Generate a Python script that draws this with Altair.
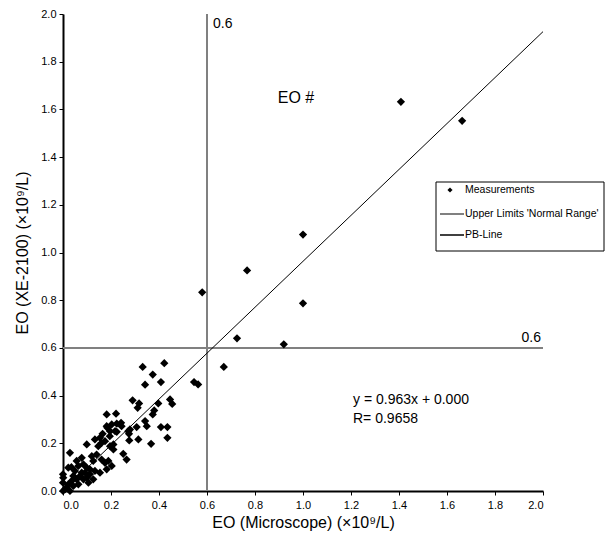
import altair as alt
import pandas as pd

# ---- data ----
x_vals = [1.408, 1.663, 1.0, 0.767, 0.58, 1.0, 0.725, 0.92, 0.67, 0.546, 0.563,
          0.332, 0.422, 0.374, 0.342, 0.408, 0.29, 0.317, 0.311, 0.397, 0.38, 0.374,
          0.446, 0.455, 0.221, 0.224, 0.242, 0.244, 0.224, 0.272, 0.279, 0.275, 0.307,
          0.342, 0.349, 0.408, 0.435, 0.435, 0.367, 0.314, 0.276, 0.251, 0.265,
          0.182, 0.182, 0.203, 0.196, 0.217, 0.099, 0.133, 0.154, 0.161, 0.147, 0.175,
          0.196, 0.21, 0.21, 0.029, 0.078, 0.12, 0.14, 0.126, 0.161, 0.175, 0.189,
          0.203, 0.182, 0.022, 0.064, 0.085, 0.099, 0.112, 0.133, 0.154, 0.126,
          0.0, 0.001, 0.0, 0.043, 0.057, 0.071, 0.085, 0.099, 0.106, 0.064, 0.043,
          0.022, 0.008, 0.029, 0.0, 0.015, 0.036, 0.078, 0.092, 0.05, 0.185, 0.165,
          0.195, 0.057, 0.112, 0.035]
y_vals = [1.632, 1.552, 1.075, 0.925, 0.833, 0.787, 0.64, 0.615, 0.52, 0.457, 0.447,
          0.52, 0.536, 0.488, 0.446, 0.457, 0.38, 0.367, 0.349, 0.367, 0.338, 0.321,
          0.384, 0.365, 0.324, 0.282, 0.286, 0.272, 0.248, 0.251, 0.258, 0.24, 0.268,
          0.293, 0.272, 0.268, 0.268, 0.223, 0.198, 0.216, 0.212, 0.156, 0.132,
          0.321, 0.272, 0.279, 0.251, 0.251, 0.195, 0.216, 0.223, 0.202, 0.188, 0.209,
          0.188, 0.195, 0.174, 0.16, 0.139, 0.146, 0.153, 0.126, 0.132, 0.118, 0.126,
          0.105, 0.091, 0.098, 0.105, 0.112, 0.098, 0.091, 0.084, 0.077, 0.049,
          0.07, 0.056, 0.035, 0.063, 0.049, 0.063, 0.049, 0.056, 0.035, 0.028, 0.021,
          0.028, 0.007, 0.0, 0.0, 0.014, 0.042, 0.077, 0.077, 0.084, 0.265, 0.24,
          0.23, 0.126, 0.07, 0.1]
fit_x = [0.0, 2.0]
fit_y = [0.0, 1.926]
limit = 0.6
axis_ticks = [0.0, 0.2, 0.4, 0.6, 0.8, 1.0, 1.2, 1.4, 1.6, 1.8, 2.0]
legend_labels = ["Measurements", "Upper Limits 'Normal Range'", "PB-Line"]

FONT = "Liberation Sans"
GRAY = "#808080"

pts = pd.DataFrame({"x": x_vals, "y": y_vals})
fit = pd.DataFrame({"x": fit_x, "y": fit_y})
vline = pd.DataFrame({"x": [limit], "y0": [0.0], "y1": [2.0]})
hline = pd.DataFrame({"y": [limit], "x0": [0.0], "x1": [2.0]})
one = pd.DataFrame({"d": [0]})

xs = alt.Scale(domain=[0, 2], nice=False, zero=False)
ys = alt.Scale(domain=[0, 2], nice=False, zero=False)
common = dict(values=axis_ticks, format=".1f", grid=False, domainColor="black",
              domainWidth=2, tickColor="black", tickSize=4, tickWidth=1,
              labelFont=FONT, labelFontSize=11, labelColor="black",
              titleFont=FONT, titleFontSize=16, titleFontWeight="normal",
              titleColor="black")
xax = alt.Axis(title="EO (Microscope) (×10⁹/L)", labelPadding=4, titlePadding=4, **common)
yax = alt.Axis(title="EO (XE-2100) (×10⁹/L)", labelPadding=3, titlePadding=10, **common)

X = lambda f: alt.X(f, type="quantitative", scale=xs, axis=xax)
Y = lambda f: alt.Y(f, type="quantitative", scale=ys, axis=yax)

v = alt.Chart(vline).mark_rule(color=GRAY, strokeWidth=2).encode(
    x=X("x"), y=Y("y0"), y2="y1")
h = alt.Chart(hline).mark_rule(color=GRAY, strokeWidth=2).encode(
    y=Y("y"), x=X("x0"), x2="x1")
line = alt.Chart(fit).mark_line(color="black", strokeWidth=1).encode(
    x=X("x"), y=Y("y"))
points = alt.Chart(pts).mark_point(shape="diamond", filled=True, color="black",
                                   size=68, opacity=1).encode(x=X("x"), y=Y("y"))

def txt(s, px, py, size=14, align="left"):
    return alt.Chart(one).mark_text(text=s, font=FONT, fontSize=size, color="black",
                                    align=align, baseline="middle").encode(
        x=alt.value(px), y=alt.value(py))

texts = [
    txt("0.6", 150, 10),
    txt("0.6", 478, 324, align="right"),
    txt("EO #", 233, 84, size=16, align="center"),
    txt("y = 0.963x + 0.000", 290, 386),
    txt("R= 0.9658", 290, 405),
]

box = alt.Chart(one).mark_rect(fill="white", stroke="black", strokeWidth=1).encode(
    x=alt.value(373), x2=alt.value(541), y=alt.value(168), y2=alt.value(237))
leg_pt = alt.Chart(one).mark_point(shape="diamond", filled=True, color="black",
                                   size=26, opacity=1).encode(
    x=alt.value(387), y=alt.value(176))
leg_gray = alt.Chart(one).mark_rule(color=GRAY, strokeWidth=2).encode(
    x=alt.value(377), x2=alt.value(401), y=alt.value(200))
leg_black = alt.Chart(one).mark_rule(color="black", strokeWidth=1.5).encode(
    x=alt.value(377), x2=alt.value(401), y=alt.value(221))
leg_texts = [txt(legend_labels[0], 402, 176, size=10.5),
             txt(legend_labels[1], 402, 200, size=10.5),
             txt(legend_labels[2], 402, 221, size=10.5)]

chart = alt.layer(v, h, line, points, *texts, box, leg_pt, leg_gray, leg_black,
                  *leg_texts).properties(
    width=480, height=477,
    autosize=alt.AutoSizeParams(type="none"),
    padding={"left": 55, "top": 6, "right": 62, "bottom": 44},
).configure_view(stroke=None)

chart.save("out.html", embed_options={"renderer": "svg", "actions": False})
